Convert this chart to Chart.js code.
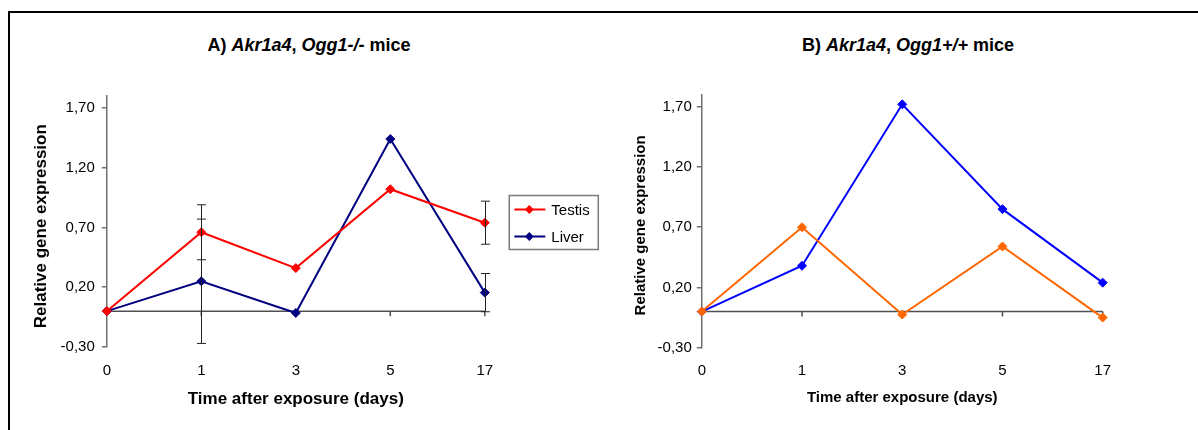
<!DOCTYPE html>
<html>
<head>
<meta charset="utf-8">
<script src="https://cdn.jsdelivr.net/npm/chart.js@4.4.1/dist/chart.umd.min.js"></script>
<style>
  html, body { margin: 0; padding: 0; background: #fff; }
  body { width: 1198px; height: 430px; position: relative; overflow: hidden; font-family: "Liberation Sans", Arial, sans-serif; }
  .frame { position: absolute; left: 8px; top: 11px; width: 1400px; height: 600px; border-top: 2px solid #000; border-left: 2px solid #000; }
  .title { position: absolute; top: 34px; width: 400px; text-align: center; font-size: 18px; font-weight: bold; line-height: 22px; color: #000; }
  #boxA { position: absolute; left: 0; top: 0; width: 600px; height: 430px; }
  #boxB { position: absolute; left: 600px; top: 0; width: 598px; height: 430px; }
</style>
</head>
<body>
<div class="frame"></div>
<div class="title" style="left:109px">A) <i>Akr1a4</i>, <i>Ogg1-/-</i> mice</div>
<div class="title" style="left:708px">B) <i>Akr1a4</i>, <i>Ogg1+/+</i> mice</div>
<div id="boxA"><canvas id="chartA"></canvas></div>
<div id="boxB"><canvas id="chartB"></canvas></div>

<script>
// dias após exposição
const days = ["0", "1", "3", "5", "17"];
const yTicks = [-0.3, 0.2, 0.7, 1.2, 1.7];

// painel A - Ogg1-/-
const testisA = [0, 0.66, 0.36, 1.02, 0.74];
const liverA = [0, 0.25, -0.015, 1.44, 0.155];
const testisErrA = [null, 0.23, null, null, 0.18];
const liverErrA = [null, 0.52, null, null, 0.16];

// painel B - Ogg1+/+
const testisB = [0, 0.70, -0.025, 0.54, -0.05];
const liverB = [0, 0.38, 1.72, 0.85, 0.24];

const FONT = "'Liberation Sans', Arial, sans-serif";

// linha do zero com as marcas das categorias (eixo X cruza em 0)
const zeroAxis = {
  id: "zeroAxis",
  beforeDatasetsDraw(chart) {
    const { ctx, chartArea, scales: { x, y } } = chart;
    const y0 = y.getPixelForValue(0);
    ctx.save();
    ctx.strokeStyle = "#505050";
    ctx.lineWidth = 1.5;
    ctx.beginPath();
    ctx.moveTo(chartArea.left, y0);
    ctx.lineTo(chartArea.right, y0);
    days.forEach((d, i) => {
      if (i === 0) return;
      const px = x.getPixelForValue(i);
      ctx.moveTo(px, y0);
      ctx.lineTo(px, y0 + 5);
    });
    ctx.stroke();
    ctx.restore();
  }
};

// barras de erro (dataset.errors)
const errorBars = {
  id: "errorBars",
  afterDatasetsDraw(chart) {
    const { ctx, scales: { y } } = chart;
    ctx.save();
    ctx.strokeStyle = "#222";
    ctx.lineWidth = 1;
    chart.data.datasets.forEach((ds, i) => {
      if (!ds.errors) return;
      const meta = chart.getDatasetMeta(i);
      ds.errors.forEach((e, j) => {
        if (e == null) return;
        const px = Math.round(meta.data[j].x) + 0.5;
        const top = y.getPixelForValue(ds.data[j] + e);
        const bot = y.getPixelForValue(ds.data[j] - e);
        ctx.beginPath();
        ctx.moveTo(px, top); ctx.lineTo(px, bot);
        ctx.moveTo(px - 4.5, top); ctx.lineTo(px + 4.5, top);
        ctx.moveTo(px - 4.5, bot); ctx.lineTo(px + 4.5, bot);
        ctx.stroke();
      });
    });
    ctx.restore();
  }
};

// legenda em caixa à direita do gráfico
const boxLegend = {
  id: "boxLegend",
  afterDraw(chart, args, opts) {
    if (!opts.show) return;
    const { ctx, chartArea } = chart;
    const left = chartArea.right + 24.5, top = 195.5, w = 89, h = 54;
    ctx.save();
    ctx.strokeStyle = "#7a7a7a";
    ctx.lineWidth = 1.5;
    ctx.strokeRect(left, top, w, h);
    ctx.font = "15px " + FONT;
    ctx.textBaseline = "middle";
    chart.data.datasets.forEach((ds, i) => {
      const cy = top + 14 + i * 27;
      ctx.strokeStyle = ds.borderColor;
      ctx.lineWidth = 2;
      ctx.beginPath();
      ctx.moveTo(left + 5, cy);
      ctx.lineTo(left + 36, cy);
      ctx.stroke();
      ctx.fillStyle = ds.borderColor;
      ctx.beginPath();
      const cx = left + 20;
      ctx.moveTo(cx, cy - 4.5); ctx.lineTo(cx + 4.5, cy);
      ctx.lineTo(cx, cy + 4.5); ctx.lineTo(cx - 4.5, cy);
      ctx.closePath();
      ctx.fill();
      ctx.fillStyle = "#000";
      ctx.fillText(ds.label, left + 42, cy + 1);
    });
    ctx.restore();
  }
};

function serie(label, data, color, errors) {
  return {
    label,
    data,
    errors,
    borderColor: color,
    backgroundColor: color,
    borderWidth: 2,
    pointStyle: "rectRot",
    pointRadius: 4.5,
    pointBorderWidth: 1,
    tension: 0,
    clip: false
  };
}

function criarGrafico(id, datasets, cfg) {
  const ctx = document.getElementById(id).getContext("2d");
  return new Chart(ctx, {
    type: "line",
    data: { labels: days, datasets },
    options: {
      responsive: true,
      maintainAspectRatio: false,
      animation: false,
      events: [],
      layout: { padding: { left: 0, top: cfg.top, right: cfg.right, bottom: 0 } },
      plugins: {
        legend: { display: false },
        tooltip: { enabled: false },
        boxLegend: { show: cfg.legend }
      },
      scales: {
        x: {
          type: "category",
          offset: false,
          grid: { display: false, drawTicks: false },
          border: { display: false },
          ticks: { color: "#000", padding: cfg.xPad, font: { family: FONT, size: 15 }, maxRotation: 0 },
          title: { display: true, text: "Time after exposure (days)", color: "#000",
                   font: { family: FONT, size: cfg.titleSize, weight: "bold" },
                   padding: { top: 0, bottom: cfg.xTitlePad } },
          afterFit: s => { s.height = cfg.xHeight; }
        },
        y: {
          min: -0.3,
          max: 1.8,
          afterBuildTicks: s => { s.ticks = yTicks.map(v => ({ value: v })); },
          grid: { drawOnChartArea: false, drawTicks: true, tickLength: 5, color: "#707070", lineWidth: 1.5 },
          border: { display: true, color: "#707070", width: 1.5 },
          ticks: {
            color: "#000",
            padding: cfg.yPad,
            font: { family: FONT, size: 15 },
            callback: v => v.toFixed(2).replace(".", ",")
          },
          // espaços no fim descem um pouco o texto girado
          title: { display: true, text: "Relative gene expression  ", color: "#000",
                   font: { family: FONT, size: cfg.titleSize, weight: "bold" },
                   padding: { top: cfg.yTitlePad, bottom: 0 } },
          afterFit: s => { s.width = cfg.yWidth; }
        }
      }
    },
    plugins: [zeroAxis, errorBars, boxLegend]
  });
}

criarGrafico("chartA", [
  serie("Testis", testisA, "#FF0000", testisErrA),
  serie("Liver", liverA, "#000080", liverErrA)
], { top: 96, right: 115.2, yWidth: 106.8, xHeight: 83, xPad: 15, xTitlePad: 20, yTitlePad: 31, yPad: 7, titleSize: 17, legend: true });

criarGrafico("chartB", [
  serie("Testis", testisB, "#FF6600", null),
  serie("Liver", liverB, "#0000FF", null)
], { top: 94.7, right: 95.3, yWidth: 101.8, xHeight: 82.3, xPad: 14, xTitlePad: 23, yTitlePad: 32, yPad: 5, titleSize: 15, legend: false });
</script>
</body>
</html>
